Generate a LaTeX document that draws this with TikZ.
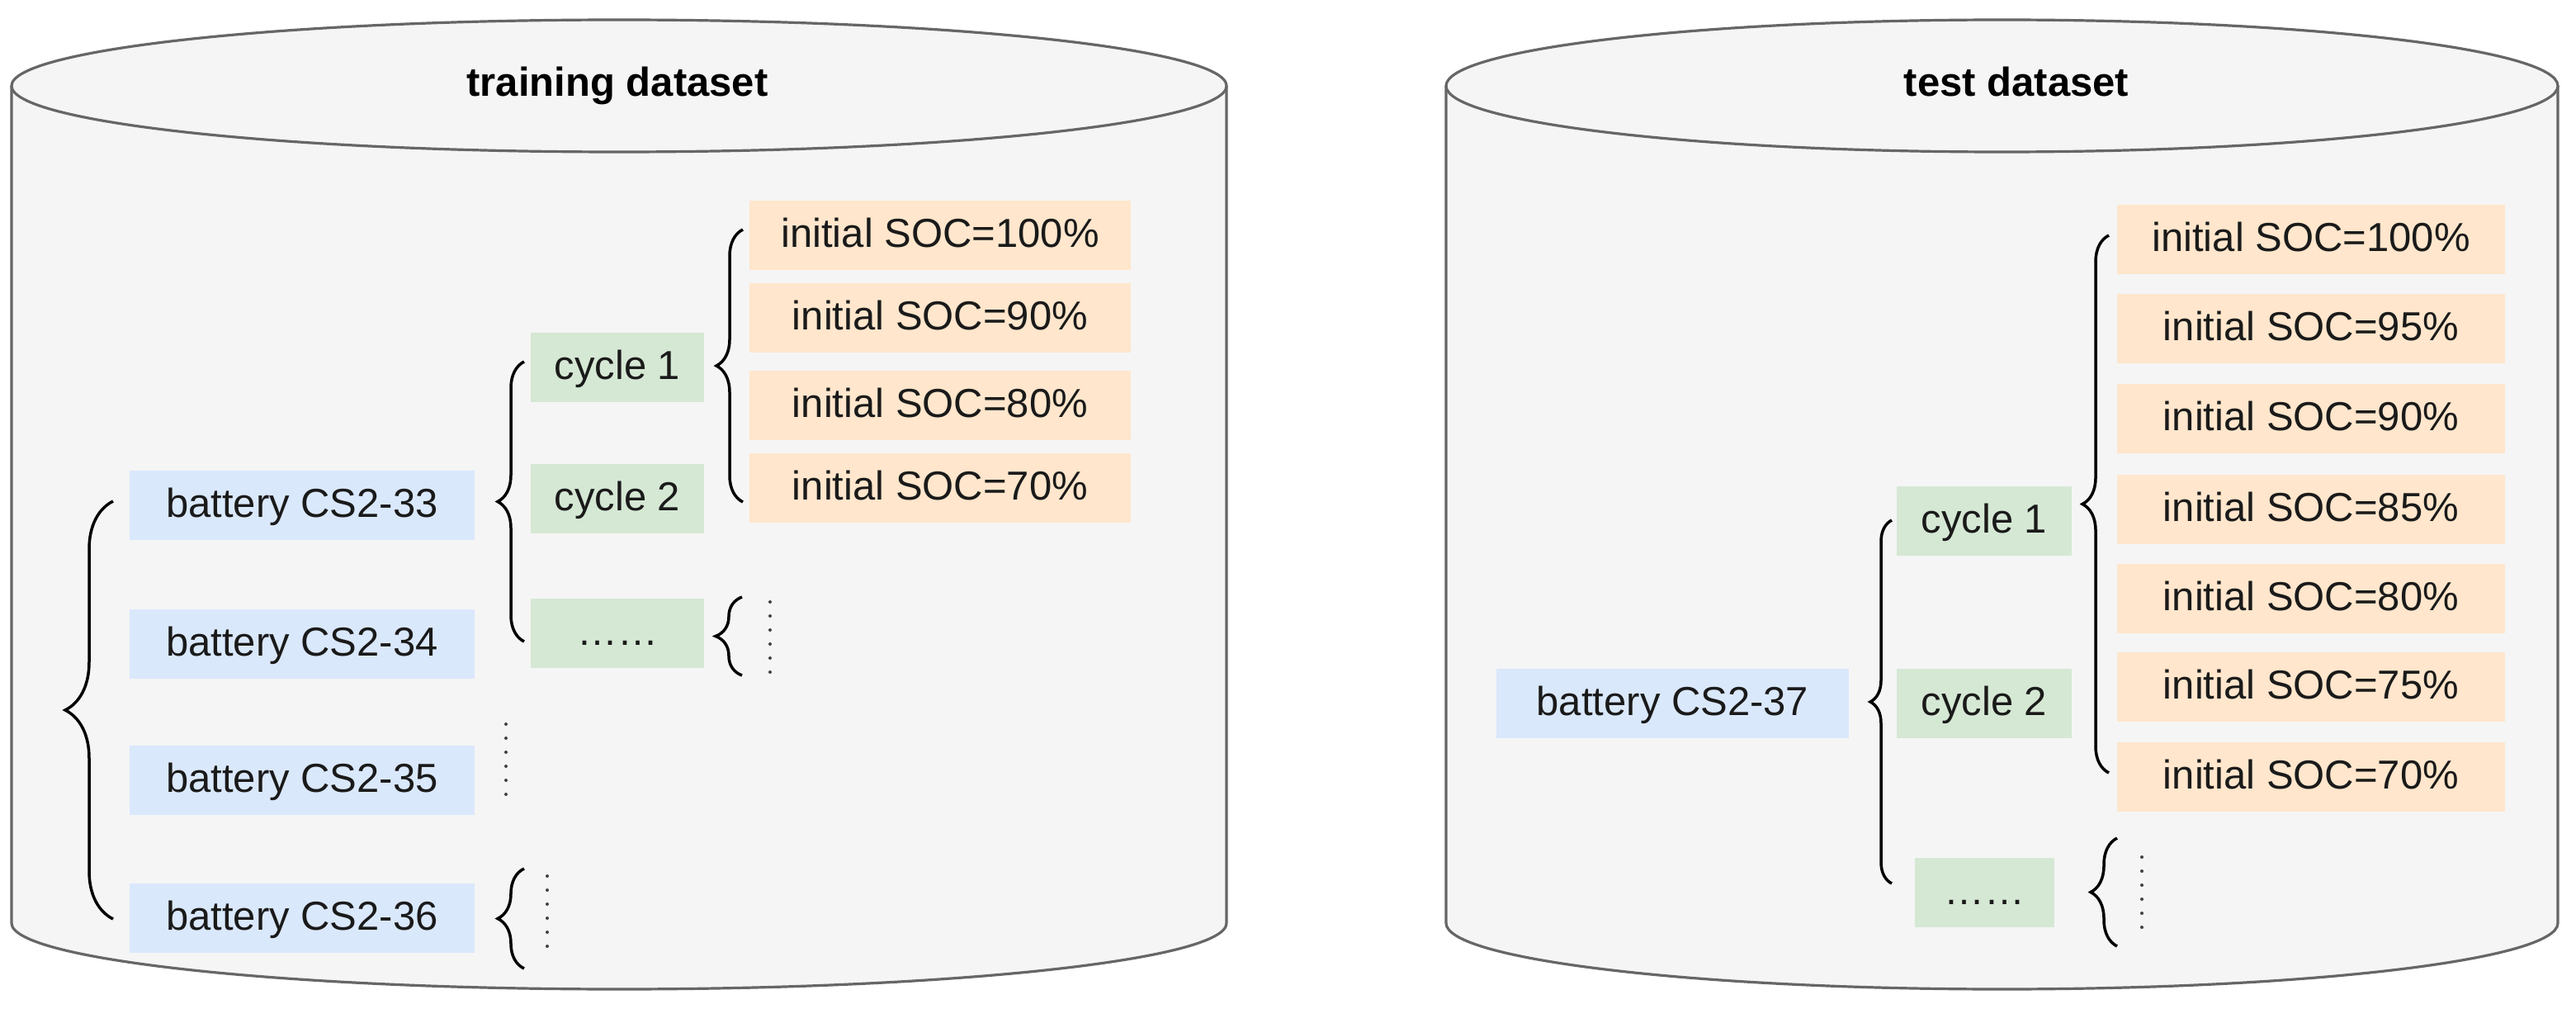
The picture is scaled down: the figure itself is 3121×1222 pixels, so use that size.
\documentclass[tikz,border=0pt]{standalone}
\usepackage{fontspec}
\setmainfont{Liberation Sans}
\usetikzlibrary{decorations.pathreplacing}
\definecolor{cylfill}{HTML}{F5F5F5}
\definecolor{cylline}{HTML}{666666}
\definecolor{bluefill}{HTML}{DAE8FC}
\definecolor{greenfill}{HTML}{D5E8D4}
\definecolor{orangefill}{HTML}{FFE6CC}
\definecolor{txt}{HTML}{1A1A1A}
\begin{document}
\begin{tikzpicture}[x=1pt,y=-1pt,
  basebox/.style={inner sep=0pt, outer sep=0pt, anchor=north west, text=txt,
    text height=35pt, text depth=6pt, font=\fontsize{49}{58}\selectfont, minimum height=84pt},
  bbox/.style={basebox, fill=bluefill, minimum width=418pt},
  gbox/.style={basebox, fill=greenfill, minimum width=210pt},
  obox/.style={basebox, fill=orangefill, minimum width=462pt},
  title/.style={anchor=base, text=black, font=\bfseries\fontsize{49}{58}\selectfont},
  cylfillst/.style={fill=cylfill},
  cylstroke/.style={draw=cylline, line width=3.2pt},
  bracebase/.style={draw=black, line width=3.5pt, decorate},
  bracesm/.style={bracebase, decoration={brace, amplitude=32pt}},
  bracebig/.style={bracebase, decoration={brace, amplitude=58pt}},
  bracemid/.style={bracebase, decoration={brace, amplitude=26pt}},
  dotline/.style={draw=black!75, line width=4pt, line cap=round, dash pattern=on 0pt off 17pt}
]
\useasboundingbox (0,0) rectangle (3121,1222);
\fill[white] (0,0) rectangle (3121,1222);

% ---------- left cylinder ----------
\fill[cylfillst] (14,104) rectangle (1486,1118);
\fill[cylfillst] (750,1118) ellipse [x radius=736pt, y radius=80pt];
\draw[cylstroke] (14,104) -- (14,1118) arc[start angle=180, end angle=360, x radius=736pt, y radius=80pt] -- (1486,104);
\draw[cylstroke, fill=cylfill] (750,104) ellipse [x radius=736pt, y radius=80pt];
\node[title] (ttrain) at (748,117) {training dataset};

% ---------- right cylinder ----------
\fill[cylfillst] (1752,104) rectangle (3099,1118);
\fill[cylfillst] (2425.5,1118) ellipse [x radius=673.5pt, y radius=80pt];
\draw[cylstroke] (1752,104) -- (1752,1118) arc[start angle=180, end angle=360, x radius=673.5pt, y radius=80pt] -- (3099,104);
\draw[cylstroke, fill=cylfill] (2425.5,104) ellipse [x radius=673.5pt, y radius=80pt];
\node[title] (ttest) at (2443,117) {test dataset};

% ---------- left boxes ----------
\node[bbox] (b33) at (157,570) {battery CS2-33};
\node[bbox] (b34) at (157,738) {battery CS2-34};
\node[bbox] (b35) at (157,903) {battery CS2-35};
\node[bbox] (b36) at (157,1070) {battery CS2-36};

\node[gbox] (lc1) at (643,403) {cycle 1};
\node[gbox] (lc2) at (643,562) {cycle 2};
\node[gbox] (lcd) at (643,725) {……};

\node[obox] (ls100) at (908,243) {initial SOC=100\%};
\node[obox] (ls90) at (908,343) {initial SOC=90\%};
\node[obox] (ls80) at (908,449) {initial SOC=80\%};
\node[obox] (ls70) at (908,549) {initial SOC=70\%};

% left braces
\coordinate (B1t) at (137,607);  \coordinate (B1b) at (137,1113);
\coordinate (B2t) at (635,438);  \coordinate (B2b) at (635,777);
\coordinate (B3t) at (900,278);  \coordinate (B3b) at (900,608);
\coordinate (B4t) at (899,723);  \coordinate (B4b) at (899,818);
\coordinate (B5t) at (635,1052); \coordinate (B5b) at (635,1173);
\draw[bracebig] (B1b) -- (B1t);
\draw[bracesm] (B2b) -- (B2t);
\draw[bracesm] (B3b) -- (B3t);
\draw[bracesm] (B4b) -- (B4t);
\draw[bracesm] (B5b) -- (B5t);

% left dotted lines
\coordinate (D1t) at (933,729);  \coordinate (D1b) at (933,814);
\coordinate (D2t) at (613,877);  \coordinate (D2b) at (613,962);
\coordinate (D3t) at (663,1061); \coordinate (D3b) at (663,1146);
\draw[dotline] (D1t) -- (D1b);
\draw[dotline] (D2t) -- (D2b);
\draw[dotline] (D3t) -- (D3b);

% ---------- right boxes ----------
\node[bbox, minimum width=427pt] (b37) at (1813,810) {battery CS2-37};

\node[gbox, minimum width=212pt] (rc1) at (2298,589) {cycle 1};
\node[gbox, minimum width=212pt] (rc2) at (2298,810) {cycle 2};
\node[gbox, minimum width=169pt] (rcd) at (2320,1039) {……};

\node[obox, minimum width=470pt] (rs100) at (2565,248) {initial SOC=100\%};
\node[obox, minimum width=470pt] (rs95) at (2565,356) {initial SOC=95\%};
\node[obox, minimum width=470pt] (rs90) at (2565,465) {initial SOC=90\%};
\node[obox, minimum width=470pt] (rs85) at (2565,575) {initial SOC=85\%};
\node[obox, minimum width=470pt] (rs80) at (2565,683) {initial SOC=80\%};
\node[obox, minimum width=470pt] (rs75) at (2565,790) {initial SOC=75\%};
\node[obox, minimum width=470pt] (rs70) at (2565,899) {initial SOC=70\%};

% right braces
\coordinate (B6t) at (2555,285);  \coordinate (B6b) at (2555,936);
\coordinate (B7t) at (2292,630);  \coordinate (B7b) at (2292,1070);
\coordinate (B8t) at (2565,1015); \coordinate (B8b) at (2565,1146);
\draw[bracesm] (B6b) -- (B6t);
\draw[bracemid] (B7b) -- (B7t);
\draw[bracesm] (B8b) -- (B8t);

% right dotted line
\coordinate (D4t) at (2595,1038); \coordinate (D4b) at (2595,1123);
\draw[dotline] (D4t) -- (D4b);
\end{tikzpicture}
\end{document}
